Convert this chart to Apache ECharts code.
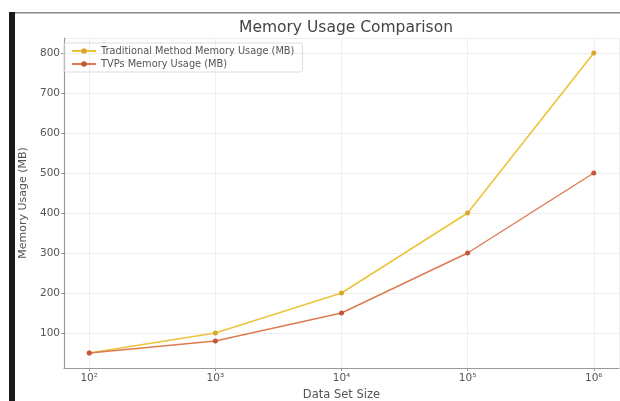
<!DOCTYPE html>
<html>
<head>
<meta charset="utf-8">
<script src="https://cdn.jsdelivr.net/npm/echarts@6/dist/echarts.min.js"></script>
<style>
html,body{margin:0;padding:0;background:#fff;}
#chart{width:620px;height:401px;}
</style>
</head>
<body>
<div id="chart"></div>
<script>
const dataSetSizes = [100, 1000, 10000, 100000, 1000000];
const traditionalMB = [50, 100, 200, 400, 800];
const tvpsMB = [50, 80, 150, 300, 500];
const seriesNames = ['Traditional Method Memory Usage (MB)', 'TVPs Memory Usage (MB)'];
const supers = {2:'²',3:'³',4:'⁴',5:'⁵',6:'⁶'};

const chart = echarts.init(document.getElementById('chart'), null, {renderer:'canvas'});
const font = 'DejaVu Sans';
chart.setOption({
  animation:false,
  backgroundColor:'#fff',
  title:{text:'Memory Usage Comparison', left:341, top:15, textAlign:'center',
    textStyle:{fontFamily:font, fontSize:15.5, fontWeight:'normal', color:'#444'}},
  graphic:[
    {type:'rect', shape:{x:9,y:12,width:6,height:389}, style:{fill:'#1a1a1a'}, z:10},
    {type:'rect', shape:{x:15,y:12,width:605,height:1.5}, style:{fill:'#888'}, z:10}
  ],
  legend:{left:64, top:43, orient:'vertical', itemGap:3, itemWidth:24, itemHeight:7,
    padding:[3,8,3,7],
    borderColor:'#ddd', borderWidth:1, borderRadius:2,
    textStyle:{fontFamily:font, fontSize:9.8, color:'#555'},
    data:seriesNames},
  grid:{left:64, right:1, top:38, bottom:33, containLabel:false, outerBoundsMode:'none'},
  xAxis:{type:'log', logBase:10, min:Math.pow(10,1.8), max:Math.pow(10,6.2),
    name:'Data Set Size', nameLocation:'middle', nameGap:19,
    nameTextStyle:{fontFamily:font, fontSize:11.5, color:'#555'},
    axisLine:{lineStyle:{color:'#999', width:1.2}},
    axisTick:{show:true, length:3, lineStyle:{color:'#999'}},
    minorTick:{show:false},
    axisLabel:{fontFamily:font, fontSize:10.5, color:'#555', margin:5, showMinLabel:false, showMaxLabel:false,
      formatter:function(v){const e=Math.round(Math.log10(v)); if(Math.abs(Math.log10(v)-e)>1e-6) return ''; return '10'+(supers[e]||e);}},
    splitLine:{show:true, lineStyle:{color:'#eee', width:1}}},
  yAxis:{type:'value', min:12.5, max:837.5, splitNumber:8,
    name:'Memory Usage (MB)', nameLocation:'middle', nameGap:31,
    nameTextStyle:{fontFamily:font, fontSize:11, color:'#555'},
    axisLine:{show:true, lineStyle:{color:'#999', width:1.2}},
    axisTick:{show:true, length:3, lineStyle:{color:'#999'}},
    axisLabel:{fontFamily:font, fontSize:10.5, color:'#555', margin:4, showMinLabel:false, showMaxLabel:false,
      formatter:function(v){return (v%100===0)?String(v):'';}},
    splitLine:{show:true, lineStyle:{color:'#eee', width:1}}},
  series:[
    {name:seriesNames[0], type:'line', data:dataSetSizes.map((x,i)=>[x,traditionalMB[i]]),
      symbol:'circle', symbolSize:5, lineStyle:{color:'#ecc43c', width:1.6},
      itemStyle:{color:'#d9a82a'}, color:'#ecc43c', z:2},
    {name:seriesNames[1], type:'line', data:dataSetSizes.map((x,i)=>[x,tvpsMB[i]]),
      symbol:'circle', symbolSize:5, lineStyle:{color:'#dd7a52', width:1.4},
      itemStyle:{color:'#c4563a'}, color:'#dd7a52', z:3}
  ]
});
</script>
</body>
</html>
